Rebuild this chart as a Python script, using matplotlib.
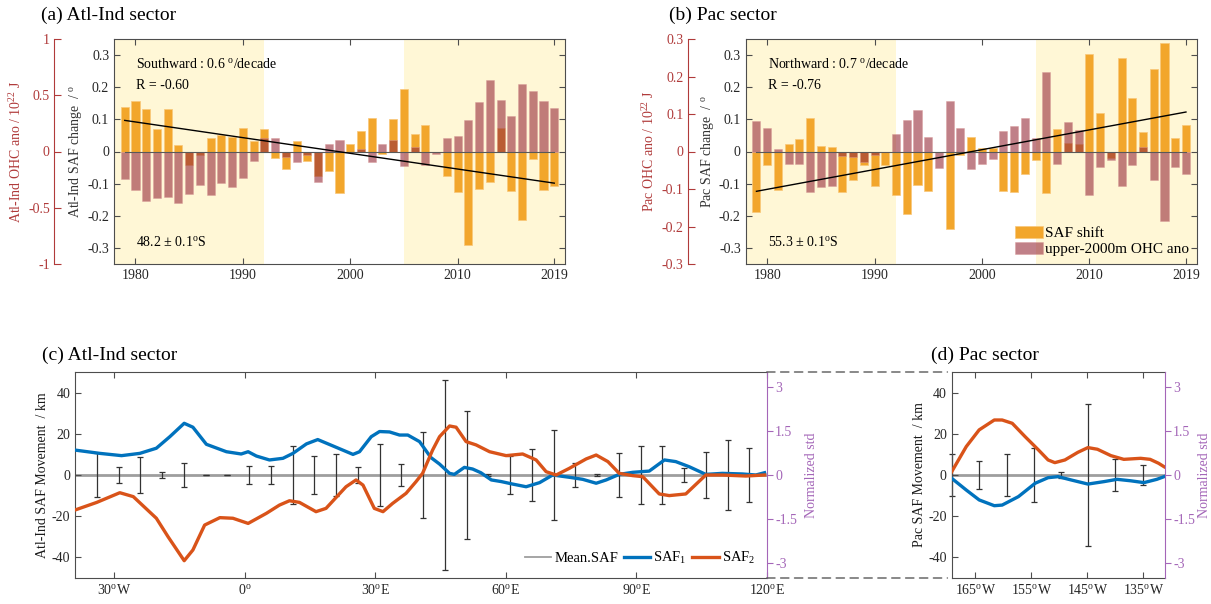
import matplotlib.pyplot as plt
import numpy as np
from matplotlib.patches import ConnectionPatch

plt.rcParams['font.family'] = ['Liberation Serif', 'DejaVu Serif']
plt.rcParams['mathtext.fontset'] = 'custom'
plt.rcParams['mathtext.rm'] = 'Liberation Serif'
plt.rcParams['mathtext.it'] = 'Liberation Serif:italic'
plt.rcParams['axes.unicode_minus'] = False

# ---- data ----
years = np.arange(1979, 2020)

# SAF shift (deg) and upper-2000m OHC anomaly (10^22 J), Atl-Ind sector
atl_saf = [0.137, 0.156, 0.132, 0.071, 0.133, 0.020, -0.043, -0.012, 0.041, 0.052,
           0.046, 0.073, 0.032, 0.069, -0.019, -0.054, 0.032, -0.029, -0.077, -0.060,
           -0.128, 0.023, 0.064, 0.104, -0.009, 0.100, 0.196, 0.054, 0.082, 0.0,
           -0.076, -0.126, -0.291, -0.118, -0.096, 0.072, -0.124, -0.213, -0.022, -0.120,
           -0.106]
atl_ohc = [-0.246, -0.346, -0.443, -0.417, -0.403, -0.457, -0.374, -0.294, -0.389, -0.280,
           -0.314, -0.234, -0.086, 0.120, 0.117, -0.051, -0.094, -0.029, -0.271, 0.063,
           0.106, 0.0, 0.026, -0.094, 0.071, 0.100, -0.126, 0.043, -0.120, -0.026,
           0.117, 0.140, 0.277, 0.443, 0.640, 0.457, 0.314, 0.600, 0.537, 0.446,
           0.389]

# Pac sector
pac_saf = [-0.189, -0.043, -0.121, 0.022, 0.039, 0.103, 0.018, 0.013, -0.127, -0.090,
           -0.043, -0.107, -0.041, -0.135, -0.194, -0.104, -0.123, 0.0, -0.240, -0.012,
           0.044, 0.011, 0.011, -0.123, -0.126, -0.070, -0.025, -0.130, 0.071, 0.027,
           0.022, 0.303, 0.120, -0.019, 0.291, 0.166, 0.062, 0.258, 0.336, 0.042,
           0.082]
pac_ohc = [0.082, 0.063, 0.007, -0.033, -0.033, -0.108, -0.094, -0.092, -0.012, -0.014,
           -0.029, -0.009, 0.0, 0.048, 0.085, 0.111, 0.040, -0.044, 0.135, 0.064,
           -0.046, -0.033, -0.020, 0.054, 0.068, 0.089, 0.035, 0.213, -0.034, 0.080,
           0.057, -0.115, -0.041, -0.022, -0.091, -0.036, 0.013, -0.076, -0.184, -0.041,
           -0.059]

# SAF movement along longitude (km), Atl-Ind sector
atl_lon1 = [-39, -33.3, -28.3, -24.1, -20.3, -17.2, -13.9, -11.9, -8.8, -4.2, -0.8, 0.8,
            2.7, 5.7, 8.8, 11.1, 14.2, 16.8, 20.3, 24.9, 26.4, 29.1, 31.0, 33.3, 35.6,
            37.5, 40.2, 42.8, 44.8, 47.1, 48.2, 50.5, 52.4, 54.3, 56.7, 59.0, 61.6, 64.7,
            67.8, 70.8, 74.6, 77.7, 80.8, 83.1, 86.1, 89.2, 93.0, 96.5, 99.1, 102.2,
            106.0, 109.8, 114.4, 117.5, 119.5]
atl_saf1 = [12.1, 10.5, 9.4, 10.5, 13.0, 18.6, 25.1, 23.2, 14.9, 11.3, 10.2, 11.3,
            9.2, 7.3, 8.1, 10.5, 15.1, 17.2, 14.1, 10.0, 11.3, 18.6, 21.1, 20.9, 19.4,
            19.4, 16.2, 8.5, 5.3, 0.8, 0.3, 3.7, 2.9, 1.1, -2.4, -3.2, -4.4, -5.7,
            -3.7, 0.0, -1.1, -2.1, -4.0, -2.4, 0.3, 1.3, 1.9, 7.3, 6.5, 4.0,
            0.3, 0.8, 0.5, 0.0, 1.1]
atl_lon2 = [-39, -34.0, -28.7, -25.6, -20.3, -17.6, -13.9, -11.9, -9.2, -5.7, -2.7, 0.8,
            5.0, 8.0, 10.3, 12.6, 16.4, 18.7, 23.3, 25.6, 27.2, 29.8, 31.8, 34.0, 37.1,
            39.4, 40.9, 43.2, 44.8, 47.1, 48.6, 50.9, 53.2, 56.3, 60.1, 63.9, 67.0, 69.3,
            71.6, 74.6, 78.5, 80.8, 83.5, 86.1, 89.2, 91.5, 95.3, 97.6, 101.4, 106.0,
            109.8, 115.2, 119.5]
atl_saf2 = [-17.0, -13.3, -8.6, -10.5, -21.0, -30.0, -41.6, -36.4, -24.3, -20.7, -21.0, -23.5,
            -18.6, -14.6, -12.5, -13.3, -17.8, -16.2, -5.7, -2.4, -4.9, -16.2, -17.8, -13.8, -8.9,
            -3.2, 0.8, 12.1, 18.6, 23.8, 23.2, 16.2, 14.6, 11.3, 9.4, 10.2, 7.3, 1.6,
            0.0, 3.2, 7.8, 9.7, 6.5, 0.8, -0.3, -0.8, -9.2, -10.0, -9.2, 0.0,
            0.0, -0.5, 0.0]
atl_err_lon = [-34, -29, -24, -19, -14, -9, -4, 1, 6, 11, 16, 21, 26, 31, 36, 41,
               46, 51, 56, 61, 66, 71, 76, 81, 86, 91, 96, 101, 106, 111, 116]
atl_err = [10.7, 3.9, 8.7, 1.5, 5.7, 0.2, 0.2, 4.4, 4.2, 14.1, 9.4, 10.2, 3.7, 15.2, 5.2, 21.0,
           46.0, 31.3, 0.5, 9.4, 12.5, 21.9, 6.0, 0.5, 10.5, 14.1, 14.2, 3.2, 11.0, 17.0, 13.0]

# Pac sector (longitude in degrees east, i.e. negative = west)
pac_lon1 = [-169.2, -166.6, -164.3, -161.6, -160.2, -157.3, -154.3, -152.0, -150.2, -147.9,
            -144.9, -142.0, -139.7, -137.3, -134.9, -132.6, -131.3]
pac_saf1 = [-1.6, -7.3, -12.1, -14.9, -14.6, -10.5, -4.0, -1.3, -0.8, -2.4,
            -4.4, -3.2, -2.1, -2.8, -3.7, -2.1, -0.8]
pac_lon2 = [-169.2, -166.6, -164.3, -161.6, -160.2, -158.4, -156.1, -153.7, -152.0, -150.8,
            -149.0, -146.7, -144.9, -143.2, -140.8, -138.5, -135.5, -133.8, -132.3, -131.3]
pac_saf2 = [1.6, 13.8, 21.9, 26.7, 26.7, 25.1, 18.6, 12.1, 7.3, 6.0,
            7.3, 11.0, 13.3, 12.5, 9.4, 7.6, 8.1, 7.6, 5.7, 4.0]
pac_err_lon = [-169.2, -164.3, -159.4, -154.6, -149.7, -144.9, -140.0, -135.1]
pac_err = [10.4, 6.8, 10.0, 13.0, 1.6, 34.5, 7.6, 4.9]

ORANGE = '#f2a62c'
BROWN = '#962b39'
SHADE = '#fff7d6'
RED = '#b03a3a'
PURPLE = '#a466b8'
BLUE = '#0072bd'
RUST = '#d95319'
FRAME = '0.3'


def bar_panel(ax, saf, ohc, ohc_lim, ohc_ticks, sector, direction, r_txt, lat_txt, offset):
    ax.axvspan(1978, 1992, color=SHADE, lw=0, zorder=0)
    ax.axvspan(2005, 2020, color=SHADE, lw=0, zorder=0)
    b1 = ax.bar(years, saf, width=0.75, color=ORANGE, edgecolor='#f8c77a', lw=0.5, zorder=2)
    ax.set_xlim(1978, 2020)
    ax.set_ylim(-0.35, 0.35)
    ax.set_yticks([-0.3, -0.2, -0.1, 0, 0.1, 0.2, 0.3])
    ax.set_yticklabels(['-0.3', '-0.2', '-0.1', '0', '0.1', '0.2', '0.3'])
    ax.set_xticks([1980, 1990, 2000, 2010, 2019])
    ax.set_ylabel(sector + ' SAF change  / $^{\\mathrm{o}}$', fontsize=10, color='0.2', labelpad=2)

    axo = ax.twinx()
    b2 = axo.bar(years, ohc, width=0.75, color=BROWN, alpha=0.6, edgecolor='#d99a9a', lw=0.5, zorder=2)
    axo.set_ylim(-ohc_lim, ohc_lim)
    axo.set_yticks(ohc_ticks)
    axo.set_yticklabels([('%g' % t) for t in ohc_ticks])
    axo.yaxis.set_ticks_position('left')
    axo.yaxis.set_label_position('left')
    # offset is given in pixels, spine position wants points
    axo.spines['left'].set_position(('outward', offset * 0.72))
    axo.spines['left'].set_color(RED)
    for s in ['right', 'top', 'bottom']:
        axo.spines[s].set_visible(False)
    axo.tick_params(axis='y', colors=RED, direction='in', length=5, labelsize=10, pad=3)
    axo.set_ylabel(sector + ' OHC ano / 10$^{22}$ J', color=RED, fontsize=10, labelpad=3)

    # linear trend of the SAF shift
    k, c = np.polyfit(years, saf, 1)
    ends = years[[0, -1]]
    axo.plot(ends, k * ends + c, color='k', lw=1.0, transform=ax.transData, zorder=4)
    axo.plot(ends, [0, 0], color='0.35', lw=0.8, transform=ax.transData, zorder=3)

    ax.tick_params(direction='in', top=True, right=True, length=4, labelsize=10,
                   colors=FRAME, labelcolor='0.15')
    for s in ax.spines.values():
        s.set_color(FRAME)
    ax.text(0.049, 0.889, direction + ' $^{\\mathrm{o}}$/decade', transform=ax.transAxes,
            fontsize=10, va='center')
    ax.text(0.049, 0.794, r_txt, transform=ax.transAxes, fontsize=10, va='center')
    ax.text(0.049, 0.098, lat_txt, transform=ax.transAxes, fontsize=10, va='center')
    return b1, b2, axo


def move_panel(ax, lon1, v1, lon2, v2, err_lon, err, xlim, xticks, xlabels, ylabel, std_x):
    ax.axhline(0, color='0.62', lw=2, zorder=1, label='Mean.SAF')
    ax.errorbar(err_lon, np.zeros(len(err)), yerr=err, fmt='none', ecolor='0.2',
                elinewidth=0.9, capsize=2.5, capthick=0.9, zorder=2, clip_on=False)
    ax.plot(lon1, v1, color=BLUE, lw=2.4, label='SAF$_1$', zorder=3)
    ax.plot(lon2, v2, color=RUST, lw=2.4, label='SAF$_2$', zorder=3)
    ax.set_xlim(*xlim)
    ax.set_ylim(-50, 50)
    ax.set_yticks([-40, -20, 0, 20, 40])
    ax.set_yticklabels(['-40', '-20', '0', '20', '40'])
    ax.set_xticks(xticks)
    ax.set_xticklabels(xlabels)
    ax.set_ylabel(ylabel, fontsize=10, color='0.1', labelpad=2)

    axp = ax.twinx()
    axp.set_ylim(-3.5, 3.5)
    axp.set_yticks([-3, -1.5, 0, 1.5, 3])
    axp.set_yticklabels(['-3', '-1.5', '0', '1.5', '3'])
    axp.tick_params(axis='y', colors=PURPLE, direction='out', length=4, labelsize=10, pad=2)
    axp.spines['right'].set_color(PURPLE)
    for s in ['left', 'top', 'bottom']:
        axp.spines[s].set_visible(False)
    axp.set_ylabel('Normalized std', color=PURPLE, fontsize=10)
    axp.yaxis.set_label_coords(std_x, 0.5)

    ax.tick_params(direction='in', top=True, right=False, length=4, labelsize=10,
                   colors=FRAME, labelcolor='0.15')
    for s in ax.spines.values():
        s.set_color(FRAME)
    ax.spines['right'].set_visible(False)
    return axp


fig = plt.figure(figsize=(12.11, 6.04), dpi=100)
ax_a = fig.add_axes([114 / 1211, 1 - 264 / 604, 451 / 1211, 225 / 604])
ax_b = fig.add_axes([745.7 / 1211, 1 - 264 / 604, 451 / 1211, 225 / 604])
ax_c = fig.add_axes([75 / 1211, 1 - 578 / 604, 691.7 / 1211, 206 / 604])
ax_d = fig.add_axes([951.7 / 1211, 1 - 578 / 604, 213 / 1211, 206 / 604])

bar_panel(ax_a, atl_saf, atl_ohc, 1.0, [-1, -0.5, 0, 0.5, 1], 'Atl-Ind',
          'Southward : 0.6', 'R = -0.60', '48.2 ± 0.1$^{\\mathrm{o}}$S', 60)
b1, b2, _ = bar_panel(ax_b, pac_saf, pac_ohc, 0.3, [-0.3, -0.2, -0.1, 0, 0.1, 0.2, 0.3], 'Pac',
                      'Northward : 0.7', 'R = -0.76', '55.3 ± 0.1$^{\\mathrm{o}}$S', 58)
ax_b.legend([b1, b2], ['SAF shift', 'upper-2000m OHC ano'], loc='lower right', frameon=False,
            fontsize=11, handlelength=1.85, handleheight=0.85, handletextpad=0.15,
            labelspacing=0.12, borderpad=0.2, borderaxespad=0.3)

move_panel(ax_c, atl_lon1, atl_saf1, atl_lon2, atl_saf2, atl_err_lon, atl_err, (-39, 120),
           [-30, 0, 30, 60, 90, 120],
           ['30$^{\\mathrm{o}}$W', '0$^{\\mathrm{o}}$', '30$^{\\mathrm{o}}$E',
            '60$^{\\mathrm{o}}$E', '90$^{\\mathrm{o}}$E', '120$^{\\mathrm{o}}$E'],
           'Atl-Ind SAF Movement  / km', 1.055)
leg = ax_c.legend(loc='lower right', ncol=3, frameon=False, fontsize=10.5, handlelength=1.8,
                  columnspacing=0.4, handletextpad=0.2, borderaxespad=0.4)
leg.get_lines()[0].set_linewidth(1.3)

move_panel(ax_d, pac_lon1, pac_saf1, pac_lon2, pac_saf2, pac_err_lon, pac_err, (-169.2, -131.2),
           [-165, -155, -145, -135],
           ['165$^{\\mathrm{o}}$W', '155$^{\\mathrm{o}}$W', '145$^{\\mathrm{o}}$W', '135$^{\\mathrm{o}}$W'],
           'Pac SAF Movement  / km', 1.155)

# dashed connectors between panels (c) and (d)
for y in (0, 1):
    con = ConnectionPatch(xyA=(1, y), coordsA=ax_c.transAxes, xyB=(-0.02, y), coordsB=ax_d.transAxes,
                          color='0.35', lw=1.0, linestyle=(0, (6, 4)))
    fig.add_artist(con)

fig.text(41 / 1211, 1 - 15 / 604, '(a) Atl-Ind sector', fontsize=14, va='center')
fig.text(669 / 1211, 1 - 15 / 604, '(b) Pac sector', fontsize=14, va='center')
fig.text(41.7 / 1211, 1 - 355 / 604, '(c) Atl-Ind sector', fontsize=14, va='center')
fig.text(930.7 / 1211, 1 - 355 / 604, '(d) Pac sector', fontsize=14, va='center')

fig.savefig('out.png', dpi=100)
